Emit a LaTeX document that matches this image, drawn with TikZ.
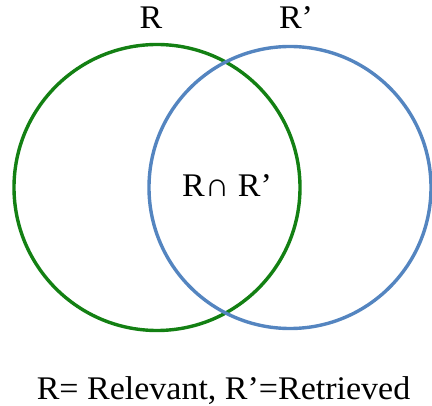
\documentclass[tikz,border=0pt]{standalone}
\usepackage{fontspec}
\setmainfont{Liberation Serif}[FakeStretch=1.03]
\definecolor{vgreen}{HTML}{138013}
\definecolor{vblue}{HTML}{5485C0}
\begin{document}
\begin{tikzpicture}[x=1pt,y=-1pt,
  setcircle/.style={circle,draw,line width=3.4pt,inner sep=0pt},
  lbl/.style={anchor=base,inner sep=0pt,font=\fontsize{33}{36}\selectfont}]
\useasboundingbox (0,0) rectangle (432,406);
\node[setcircle,vgreen,minimum size=286pt] (relevant) at (157,187.5) {};
\node[setcircle,vblue,minimum size=282pt] (retrieved) at (290,187.5) {};
\node[lbl] (rl) at (151,29) {R};
\node[lbl] (rpl) at (296,29) {R’};
\node[lbl] (inter) at (227,197) {R∩ R’};
\node[lbl] (legend) at (223.5,400) {R= Relevant, R’=Retrieved};
\end{tikzpicture}
\end{document}
